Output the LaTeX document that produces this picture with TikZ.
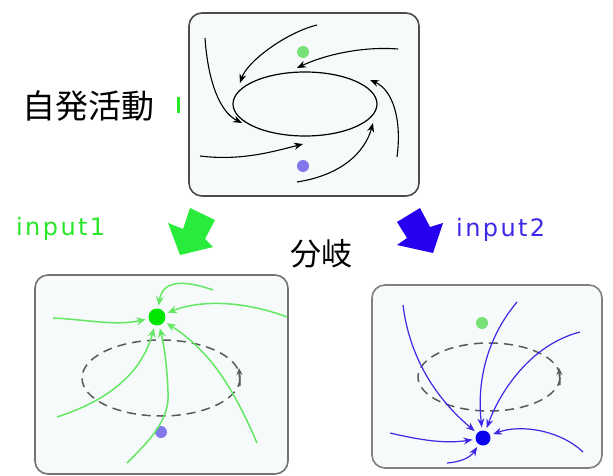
\documentclass[tikz,border=0pt]{standalone}
\usepackage{fontspec}
\newfontfamily\cjk{Noto Sans CJK JP}
\newfontfamily\lab[LetterSpace=10]{DejaVu Sans}
\usetikzlibrary{arrows.meta}
\definecolor{boxfill}{RGB}{246,250,250}
\definecolor{gtext}{RGB}{40,230,40}
\definecolor{btext}{RGB}{60,40,230}
\definecolor{garrow}{RGB}{40,235,60}
\definecolor{barrow}{RGB}{40,0,240}
\definecolor{gline}{RGB}{100,232,100}
\definecolor{bline}{RGB}{60,40,230}
\definecolor{gdotc}{RGB}{0,230,0}
\definecolor{bdotc}{RGB}{10,0,240}
\definecolor{lgdot}{RGB}{120,225,120}
\definecolor{lbdot}{RGB}{130,120,235}
\definecolor{dashc}{RGB}{90,90,90}
\tikzset{
  panel/.style={draw=#1, line width=1.6pt, fill=boxfill, rounded corners=13pt},
  flow/.style={line width=1.1pt, draw=black, -{Stealth[length=9pt,width=7pt]}},
  gflow/.style={line width=1.5pt, draw=gline, -{Stealth[length=9pt,width=8pt]}, color=gline, shorten >=3pt},
  bflow/.style={line width=1.2pt, draw=bline, -{Stealth[length=9pt,width=7pt]}, color=bline, shorten >=3pt},
  dotn/.style={circle, fill=#1, inner sep=0pt, draw=none},
  cyc/.style={draw=dashc, line width=1.5pt, dash pattern=on 9pt off 6pt},
}
\begin{document}
\begin{tikzpicture}[x=1pt,y=-1pt]
\useasboundingbox (0,0) rectangle (613,476);
\fill[white] (0,0) rectangle (613,476);

% ---------- top panel ----------
\draw[panel={black!70}] (189,13) rectangle (419,196);
\draw[line width=1.2pt] (305,104) ellipse [x radius=72, y radius=32];
\node[dotn=lgdot, minimum size=12pt] (tg) at (303,52) {};
\node[dotn=lbdot, minimum size=12pt] (tb) at (303,166) {};
\coordinate (a1s) at (317,25);  \coordinate (a1e) at (240,83);
\coordinate (a2s) at (398,49);  \coordinate (a2e) at (297,68);
\coordinate (a3s) at (205,38);  \coordinate (a3e) at (242,123);
\coordinate (a4s) at (200,156); \coordinate (a4e) at (303,144);
\coordinate (a5s) at (297,182); \coordinate (a5e) at (373,123);
\coordinate (a6s) at (397,157); \coordinate (a6e) at (370,80);
\draw[flow] (a1s) .. controls (285,33) and (247,62) .. (a1e);
\draw[flow] (a2s) .. controls (360,46) and (322,56) .. (a2e);
\draw[flow] (a3s) .. controls (208,82) and (220,112) .. (a3e);
\draw[flow] (a4s) .. controls (240,161) and (272,152) .. (a4e);
\draw[flow] (a5s) .. controls (342,175) and (365,152) .. (a5e);
\draw[flow] (a6s) .. controls (402,120) and (393,90) .. (a6e);

% labels
\node[font=\cjk\fontsize{33}{36}\selectfont, anchor=center] (spont) at (89,106) {自発活動};
\fill[gtext] (176.5,97) rectangle (179.5,113);
\node[font=\lab\fontsize{24}{28}\selectfont, text=gtext, anchor=base west, inner sep=0pt] (in1) at (16,235) {input1};
\node[font=\lab\fontsize{24}{28}\selectfont, text=btext, anchor=base west, inner sep=0pt] (in2) at (456,236) {input2};
\node[font=\cjk\fontsize{31}{34}\selectfont, anchor=center] (bif) at (321,254) {分岐};

% block arrows
\fill[garrow] (190,208) -- (215,220) -- (205,239) -- (213,247) -- (180,255) -- (168,223) -- (183,229) -- cycle;
\fill[barrow] (420,208) -- (397,222) -- (407,238) -- (397,245) -- (433,253) -- (443,223) -- (430,227) -- cycle;

% ---------- bottom-left panel ----------
\draw[panel={black!55}] (35,275) rectangle (288,474);
\draw[cyc] (161,378) ellipse [x radius=79, y radius=38];
\coordinate (lcy1) at (240,386); \coordinate (lcy2) at (239,368);
\draw[draw=dashc, line width=1.5pt, -{Stealth[length=7pt,width=6pt]}] (lcy1) -- (lcy2);
\node[dotn=gdotc, minimum size=17pt] (gd) at (157,317) {};
\node[dotn=lbdot, minimum size=12pt] (lb) at (161,432) {};
\coordinate (g1) at (53,318);
\coordinate (g2) at (213,290);
\coordinate (g3) at (287,317);
\coordinate (g4) at (57,417);
\coordinate (g5) at (127,463);
\coordinate (g6) at (257,443);
\draw[gflow] (g1) .. controls (90,320) and (115,326) .. (gd);
\draw[gflow] (g2) .. controls (193,283) and (163,276) .. (gd);
\draw[gflow] (g3) .. controls (250,303) and (205,298) .. (gd);
\draw[gflow] (g4) .. controls (110,400) and (142,372) .. (gd);
\draw[gflow] (g5) .. controls (150,440) and (170,420) .. (168,392) .. controls (167,365) and (164,345) .. (gd);
\draw[gflow] (g6) .. controls (235,392) and (212,352) .. (gd);

% ---------- bottom-right panel ----------
\draw[panel={black!50}] (372,285) rectangle (602,468);
\draw[cyc] (489,377) ellipse [x radius=71, y radius=34];
\coordinate (rcy1) at (560,385); \coordinate (rcy2) at (559,368);
\draw[draw=dashc, line width=1.5pt, -{Stealth[length=7pt,width=6pt]}] (rcy1) -- (rcy2);
\node[dotn=lgdot, minimum size=12pt] (rg) at (482,323) {};
\node[dotn=bdotc, minimum size=15pt] (bd) at (483,438) {};
\coordinate (b1) at (403,305);
\coordinate (b2) at (517,302);
\coordinate (b3) at (580,332);
\coordinate (b4) at (390,433);
\coordinate (b5) at (583,452);
\coordinate (b6) at (447,463);
\draw[bflow] (b1) .. controls (410,362) and (440,402) .. (bd);
\draw[bflow] (b2) .. controls (485,340) and (477,385) .. (bd);
\draw[bflow] (b3) .. controls (530,345) and (500,392) .. (bd);
\draw[bflow] (b4) .. controls (420,440) and (445,444) .. (bd);
\draw[bflow] (b5) .. controls (560,430) and (520,424) .. (bd);
\draw[bflow] (b6) .. controls (460,462) and (470,458) .. (bd);
\end{tikzpicture}
\end{document}
